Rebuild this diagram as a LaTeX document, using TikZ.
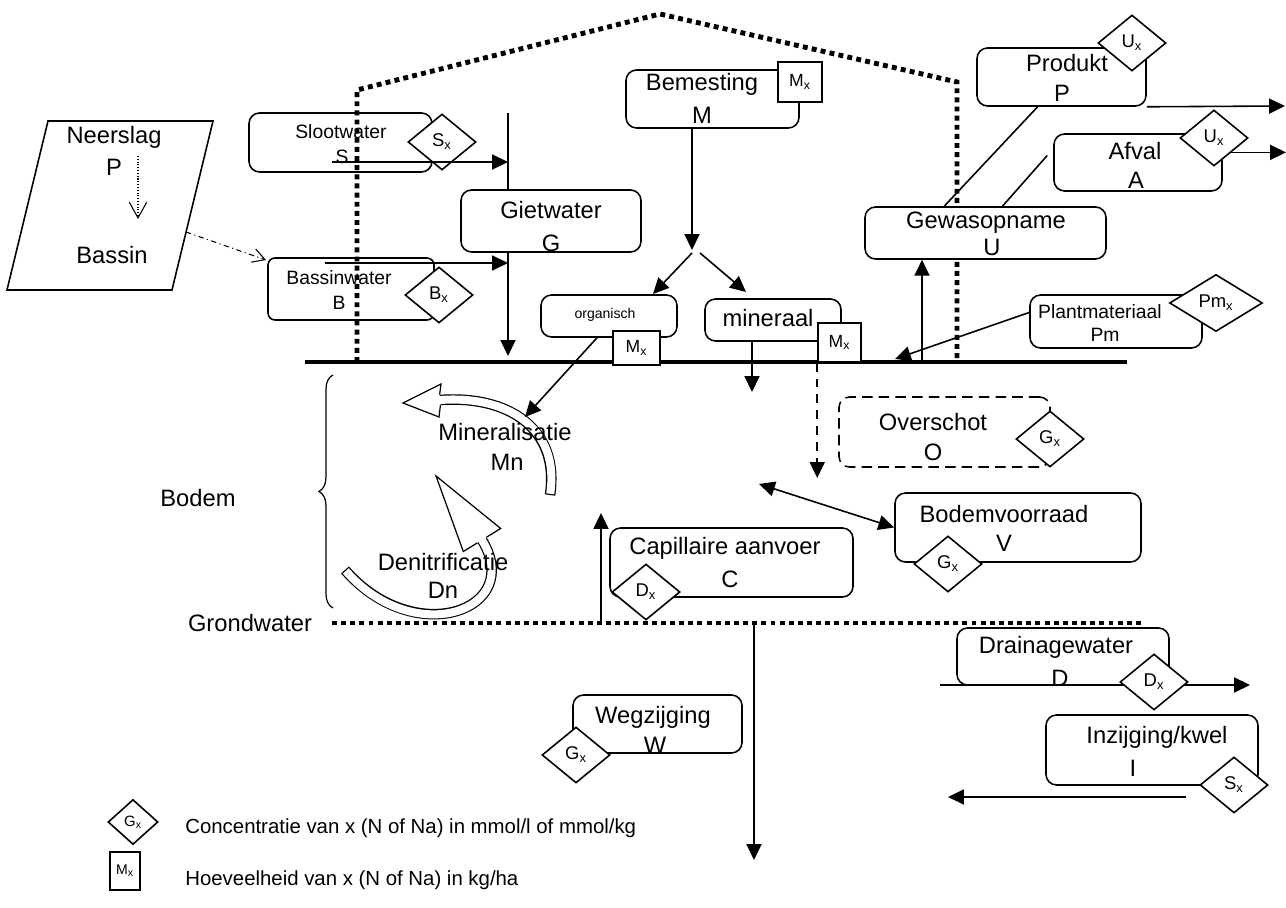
\documentclass[tikz,border=0pt]{standalone}
\usepackage{fontspec}
\setmainfont{Liberation Sans}
\usetikzlibrary{arrows.meta,positioning,calc,fit,shapes.geometric,decorations.pathreplacing}
\tikzset{
  vak/.style    ={draw,rounded corners=6pt,inner sep=0pt,line width=0.9pt,fill=white},
  ruit/.style   ={diamond,draw,fill=white,line width=0.9pt,inner sep=0pt,
                  minimum width=1.36cm,minimum height=1.12cm,font=\fontsize{10.5}{11}\selectfont},
  blok/.style   ={draw,fill=white,line width=0.9pt,inner sep=0pt,font=\fontsize{10}{10}\selectfont},
  groot/.style  ={inner sep=0pt,font=\fontsize{13.5}{15}\selectfont},
  klein/.style  ={inner sep=0pt,font=\fontsize{11}{12}\selectfont},
  pijl/.style   ={line width=0.9pt,-{Triangle[length=9pt,width=8.5pt]}},
  stippel/.style={line width=2.8pt,dash pattern=on 2.8pt off 2.4pt},
  holband/.style={line width=6pt},
  holbinnen/.style={line width=4.6pt,white},
}
\begin{document}
\begin{tikzpicture}[x=0.02cm,y=-0.02cm]
  \useasboundingbox (0,0) rectangle (1286,908);

  % vrije eindpunten
  \coordinate (gtop) at (508,113);
  \coordinate (gbot) at (508,356);
  \coordinate (sbegin) at (332,162);
  \coordinate (sfin) at (508,162);
  \coordinate (bbegin) at (325,263);
  \coordinate (bfin) at (508,263);
  \coordinate (splits) at (692,250);
  \coordinate (naarorg) at (653,294);
  \coordinate (naarmin) at (746,292);
  \coordinate (mnpunt) at (525,417);
  \coordinate (minpijl) at (752,392);
  \coordinate (overpijl) at (820,478);
  \coordinate (gewasvoet) at (922,362);
  \coordinate (plantpunt) at (895,359);
  \coordinate (prodeind) at (1285,106);
  \coordinate (afvaleind) at (1286,152);
  \coordinate (voorraad) at (759,484);
  \coordinate (capvoet) at (601,623);
  \coordinate (cappunt) at (601,513);
  \coordinate (wegvoet) at (754,623);
  \coordinate (wegpunt) at (754,860);
  \coordinate (drainbegin) at (940,685);
  \coordinate (draineind) at (1250,685);
  \coordinate (inzbegin) at (1186,797);
  \coordinate (inzeind) at (948,797);
  \coordinate (bassinrand) at (186,232);
  \coordinate (bassinpunt) at (266,260);
  \coordinate (regenboven) at (138,156);
  \coordinate (regenonder) at (138,219);

  % kas, maaiveld en grondwater
  \draw[stippel] (357,362) -- (357,90) -- (660,14) -- (957,82) -- (957,362);
  \draw[line width=2.4pt] (305,362) -- (1127,362);
  \draw[stippel] (332,623) -- (1142,623);
  \draw[pijl] (gtop) -- (gbot);

  % neerslag / bassin
  \draw[line width=0.9pt] (48,121) -- (213,121) -- (172,290) -- (7,290) -- cycle;
  \draw[densely dotted,line width=0.6pt,-{Straight Barb[length=9pt,width=10pt]}] (regenboven) -- (regenonder);

  % vakken
  \foreach \n/\a/\b/\c/\d in {giet/461/190/641/252, bem/626/70/799/128,
      org/541/295/677/337, miner/705/299/841/341, gewas/865/207/1106/259,
      prod/977/48/1146/106, afval/1054/134/1222/191, plant/1030/295/1202/348,
      bodemv/895/493/1141/562, capil/610/528/853/597, drain/957/628/1169/685,
      inz/1046/715/1258/785, wegz/573/695/742/753}
    \node[vak,fit={(\a,\b) (\c,\d)}] (\n) {};
  \node[vak,dash pattern=on 6pt off 3.5pt,fit={(839,397) (1050,467)}] (over) {};
  \node[vak,fill=none,fit={(249,113) (432,172)}] (sloot) {};
  \node[vak,fill=none,rounded corners=4pt,fit={(268,258) (434,320)}] (bassin) {};

  % drainage loopt achter de ruit
  \draw[pijl] (drainbegin) -- (draineind);

  % concentraties en hoeveelheden
  \foreach \n/\x/\y/\t in {sx1/442/142/S, bx/439/295/B, ux1/1132/43/U, ux2/1214/138/U,
      gx1/1050/439/G, gx2/948/564/G, dx1/646/592/D, dx2/1154/682/D,
      sx2/1234/785/S, gx3/576/755/G}
    \node[ruit] (\n) at (\x,\y) {\t\textsubscript{x}};
  \node[ruit,minimum width=1.86cm,minimum height=1.14cm] (pmx) at (1216,303) {Pm\textsubscript{x}};
  \node[ruit,minimum width=1.0cm,minimum height=0.9cm,font=\fontsize{8.5}{9}\selectfont] (gx4) at (133,822) {G\textsubscript{x}};
  \node[blok,minimum width=0.88cm,minimum height=0.8cm] (mx1) at (800,82) {M\textsubscript{x}};
  \node[blok,minimum width=0.94cm,minimum height=0.68cm] (mx2) at (636.5,348) {M\textsubscript{x}};
  \node[blok,minimum width=0.86cm,minimum height=0.78cm] (mx3) at (839.5,342.5) {M\textsubscript{x}};
  \node[blok,minimum width=0.6cm,minimum height=0.76cm,font=\fontsize{8}{8}\selectfont] (mx4) at (125,871) {M\textsubscript{x}};

  % mineralisatie en denitrificatie
  \draw[holband] (550,495) .. controls (560,430) and (510,395) .. (440,400);
  \draw[holbinnen,shorten <=0.7pt] (550,495) .. controls (560,430) and (510,395) .. (440,400);
  \fill[white] (439.6,394.7) -- (441,384) -- (403,403) -- (439,417) -- (440.4,405.3) -- cycle;
  \draw[line width=0.7pt] (439.6,394.7) -- (441,384) -- (403,403) -- (439,417) -- (440.4,405.3);
  \draw[holband] (345,570) .. controls (415,650) and (525,610) .. (482,540);
  \draw[holbinnen,shorten <=0.7pt] (345,570) .. controls (415,650) and (525,610) .. (482,540);
  \fill[white] (486.5,537.2) -- (500.7,528.5) -- (436,476) -- (463.3,551.5) -- (477.5,542.8) -- cycle;
  \draw[line width=0.7pt] (486.5,537.2) -- (500.7,528.5) -- (436,476) -- (463.3,551.5) -- (477.5,542.8);

  % stromen
  \draw[pijl] (sbegin) -- (sfin);
  \draw[pijl] (bbegin) -- (bfin);
  \draw[line width=0.6pt,dash dot,-{Straight Barb[length=7pt,width=8pt]}] (bassinrand) -- (bassinpunt);
  \draw[pijl] (bem.south -| splits) -- (splits);
  \draw[pijl] ($(splits)+(0,3)$) -- (naarorg);
  \draw[pijl] ($(splits)+(8,3)$) -- (naarmin);
  \draw[pijl] ($(org.south)+(-12,0)$) -- (mnpunt);
  \draw[pijl] (miner.south -| minpijl) -- (minpijl);
  \draw[pijl,dash pattern=on 5pt off 4pt] (mx3.south west) -- (mx3.south west |- overpijl);
  \draw[pijl] (gewasvoet) -- (gewas.south -| gewasvoet);
  \draw[line width=0.9pt] ($(gewas.north west)!0.33!(gewas.north east)$) -- ($(prod.south west)!0.36!(prod.south east)$);
  \draw[line width=0.9pt] ($(gewas.north west)!0.57!(gewas.north east)$) -- ($(afval.west)+(-6,-7)$);
  \draw[pijl] (prod.south east) -- (prodeind);
  \draw[pijl] (ux2.south east) -- (ux2.south east -| afvaleind);
  \draw[pijl] ($(plant.west)+(0,-9)$) -- (plantpunt);
  \draw[line width=0.9pt,{Triangle[length=9pt,width=8.5pt]}-{Triangle[length=9pt,width=8.5pt]}] (voorraad) -- (bodemv.west);
  \draw[pijl] (capvoet) -- (cappunt);
  \draw[pijl] (wegvoet) -- (wegpunt);
  \draw[pijl] (inzbegin) -- (inzeind);

  % bodem
  \draw[line width=0.7pt,decorate,decoration={brace,amplitude=8pt}] (333,608) -- (333,375);

  % teksten
  \foreach \n/\x/\y/\t in {nsT/114/137/Neerslag, nsL/114/167/P, nsB/112/255/Bassin,
      gietT/551/210/Gietwater, gietL/551/243/G,
      bemT/702/84/Bemesting, bemL/702/115/M, minT/768/318/mineraal,
      gewasT/986/223/Gewasopname, gewasL/992/247/U,
      prodT/1067/63/Produkt, prodL/1062/93/P,
      afvalT/1135/151/Afval, afvalL/1136/180/A,
      overT/933/422/Overschot, overL/933/452/O,
      bodemvT/1004/514/Bodemvoorraad, bodemvL/1004/543/V,
      capT/725/548/Capillaire aanvoer, capL/730/579/C,
      drainT/1056/647/Drainagewater, drainL/1060/678/D,
      inzL/1133/768/I, wegT/653/717/Wegzijging, wegL/655/745/W,
      mnT/505/432/Mineralisatie, mnL/507/462/Mn,
      dnT/443/562/Denitrificatie, dnL/443/590/Dn,
      bodemT/198/498/Bodem, grondT/250/623/Grondwater}
    \node[groot] (\n) at (\x,\y) {\t};
  \node[groot] (inzT) at (1157,737) {Inzijging/kwel};
  \foreach \n/\x/\y/\t in {slootT/341/132/Slootwater, slootL/342/157/S,
      bassinT/339/278/Bassinwater, bassinL/339/303/B,
      plantT/1100/312/Plantmateriaal, plantL/1105/335/Pm}
    \node[klein] (\n) at (\x,\y) {\t};
  \node[inner sep=0pt,font=\fontsize{8}{9}\selectfont] (orgT) at (605,315) {organisch};

  % legenda
  \node[anchor=west,inner sep=0pt,font=\fontsize{11.6}{13}\selectfont] (legG) at (185,828)
    {Concentratie van x (N of Na) in mmol/l of mmol/kg};
  \node[anchor=west,inner sep=0pt,font=\fontsize{11.6}{13}\selectfont] (legM) at (185,880)
    {Hoeveelheid van x (N of Na) in kg/ha};
\end{tikzpicture}
\end{document}
